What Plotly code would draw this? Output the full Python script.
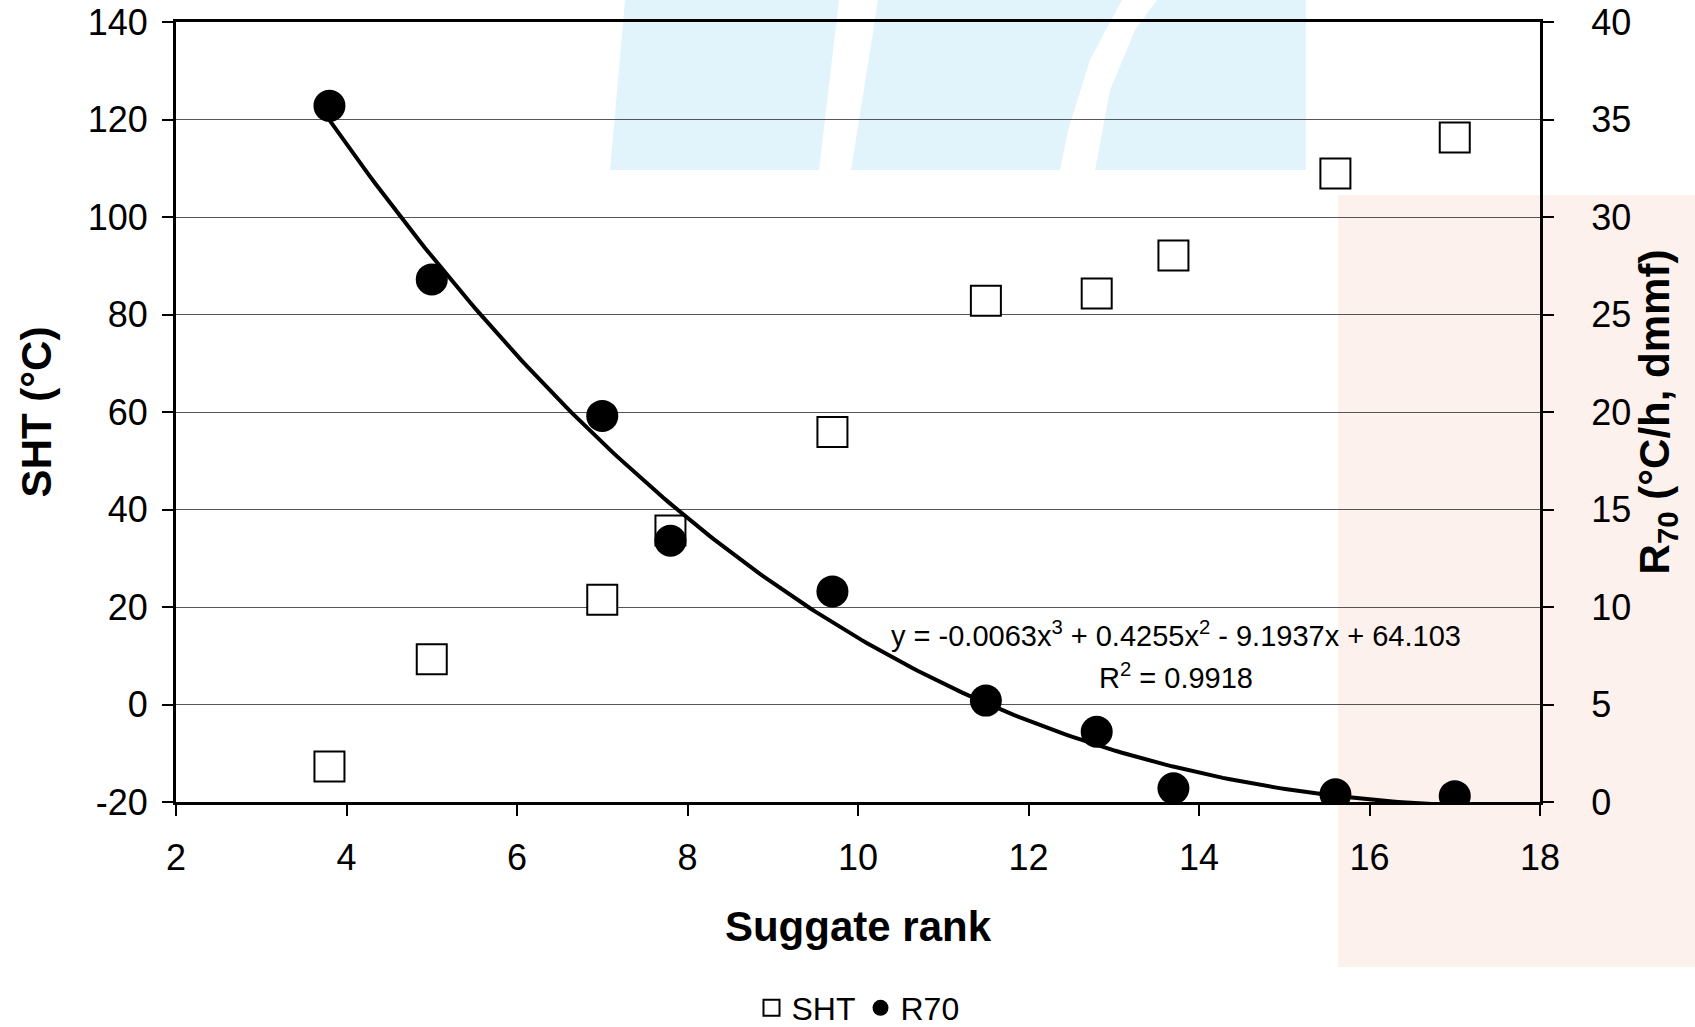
import numpy as np
import plotly.graph_objects as go

# ---- data ----
suggate_rank = [3.8, 5.0, 7.0, 7.8, 9.7, 11.5, 12.8, 13.7, 15.6, 17.0]
sht_values = [-12.7, 9.3, 21.5, 35.7, 55.9, 82.8, 84.3, 92.1, 108.9, 116.3]
r70_values = [35.7, 26.8, 19.8, 13.4, 10.8, 5.2, 3.6, 0.7, 0.4, 0.3]
# Trendline coefficients as printed on the chart (cubic, highest power first)
trend_coeffs = [-0.0063, 0.4255, -9.1937, 64.103]
trend_label = "y = -0.0063x<sup>3</sup> + 0.4255x<sup>2</sup> - 9.1937x + 64.103"
r2_label = "R<sup>2</sup> = 0.9918"

x_ticks = [2, 4, 6, 8, 10, 12, 14, 16, 18]
left_ticks = [-20, 0, 20, 40, 60, 80, 100, 120, 140]
left_tick_text = ["-20", "0", "20", "40", "60", "80", "100", "120", "140"]
right_ticks = [0, 5, 10, 15, 20, 25, 30, 35, 40]

FONT = "Liberation Sans, Arial, sans-serif"
W, H = 1695, 1027
L, R, T, B = 176, 155, 22, 225
PW, PH = W - L - R, H - T - B


def px(xw):
    return (xw - L) / PW


def py(yw):
    return (H - B - yw) / PH


def poly(points):
    return "M " + " L ".join(f"{px(a):.4f},{py(b):.4f}" for a, b in points) + " Z"


blue = "#e2f4fb"
peach = "#fdf1ed"
shapes = [
    dict(type="path", xref="paper", yref="paper", layer="below", line_width=0, fillcolor=blue,
         path=poly([(610, 170), (625, 0), (839, 0), (819, 170)])),
    dict(type="path", xref="paper", yref="paper", layer="below", line_width=0, fillcolor=blue,
         path=poly([(851, 170), (878, 0), (1122, 0), (1090, 60), (1068, 130), (1060, 170)])),
    dict(type="path", xref="paper", yref="paper", layer="below", line_width=0, fillcolor=blue,
         path=poly([(1095, 170), (1110, 90), (1135, 30), (1157, 0), (1306, 0), (1306, 170)])),
    dict(type="rect", xref="paper", yref="paper", layer="below", line_width=0, fillcolor=peach,
         x0=px(1338), x1=px(1695), y0=py(967), y1=py(195)),
]

x_fit = np.linspace(min(suggate_rank), max(suggate_rank), 200)
y_fit = np.polyval(trend_coeffs, x_fit)

fig = go.Figure()
fig.add_trace(go.Scatter(
    x=suggate_rank, y=sht_values, mode="markers", name="SHT",
    marker=dict(symbol="square", size=30, color="white", line=dict(color="black", width=2)),
))
fig.add_trace(go.Scatter(
    x=x_fit, y=y_fit, mode="lines", yaxis="y2", showlegend=False,
    line=dict(color="black", width=4),
))
fig.add_trace(go.Scatter(
    x=suggate_rank, y=r70_values, mode="markers", name="R70", yaxis="y2",
    marker=dict(symbol="circle", size=32, color="black"),
))

fig.add_annotation(x=13.73, y=8.6, xref="x", yref="y2", text=trend_label, showarrow=False,
                   font=dict(family=FONT, size=29, color="black"), xanchor="center", yanchor="middle")
fig.add_annotation(x=13.73, y=6.45, xref="x", yref="y2", text=r2_label, showarrow=False,
                   font=dict(family=FONT, size=29, color="black"), xanchor="center", yanchor="middle")

fig.update_layout(
    width=W, height=H,
    margin=dict(l=L, r=R, t=T, b=B, autoexpand=False),
    paper_bgcolor="white", plot_bgcolor="rgba(0,0,0,0)",
    font=dict(family=FONT, color="black"),
    shapes=shapes,
    xaxis=dict(
        range=[2, 18], tickvals=x_ticks, ticks="outside", ticklen=11, tickwidth=2, tickcolor="black",
        showline=True, linecolor="black", linewidth=3, mirror=True, showgrid=False, zeroline=False,
        tickfont=dict(size=36), ticklabelstandoff=11,
        title=dict(text="<b>Suggate rank</b>", font=dict(size=42), standoff=35),
    ),
    yaxis=dict(
        range=[-20, 140], tickvals=left_ticks, ticktext=left_tick_text, ticks="outside", ticklen=11,
        tickwidth=2, tickcolor="black",
        showline=True, linecolor="black", linewidth=3, showgrid=True, gridcolor="#555555", gridwidth=1,
        zeroline=False, tickfont=dict(size=36), ticklabelstandoff=7,
        title=dict(text="<b>SHT (°C)</b>", font=dict(size=42), standoff=24),
    ),
    yaxis2=dict(
        range=[0, 40], tickvals=right_ticks, overlaying="y", side="right", ticks="outside", ticklen=11,
        tickwidth=2, tickcolor="black", showline=True, linecolor="black", linewidth=3, showgrid=False,
        zeroline=False, tickfont=dict(size=36), ticklabelstandoff=30,
        title=dict(text="<b>R<sub>70</sub> (°C/h, dmmf)</b>", font=dict(size=42), standoff=2),
    ),
    legend=dict(orientation="h", x=0.5, xanchor="center", y=py(1008), yanchor="middle",
                font=dict(size=32), bgcolor="rgba(0,0,0,0)", itemsizing="trace"),
)

fig.write_html("out.html", config={"displayModeBar": False},
               post_script="document.body.style.margin='0';document.body.style.overflow='hidden';")
